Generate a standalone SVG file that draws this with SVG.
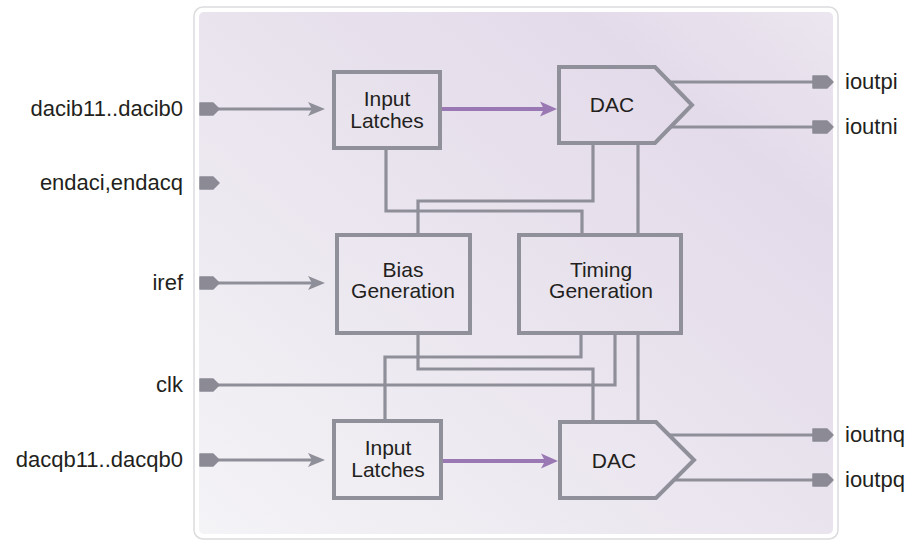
<svg xmlns="http://www.w3.org/2000/svg" width="918" height="540" viewBox="0 0 918 540">
<defs>
<linearGradient id="bg" x1="0" y1="1" x2="1" y2="0">
<stop offset="0" stop-color="#f4f3f6"/>
<stop offset="0.55" stop-color="#e8e2ed"/>
<stop offset="0.8" stop-color="#e4dbea"/>
<stop offset="1" stop-color="#ebe6ef"/>
</linearGradient>
<marker id="ag" markerUnits="userSpaceOnUse" markerWidth="18" markerHeight="15" refX="10" refY="7" orient="auto" viewBox="0 0 18 14">
<path d="M0,0 L17,7 L0,14 L4,7 Z" fill="#8f8f99"/>
</marker>
<marker id="ap" markerUnits="userSpaceOnUse" markerWidth="18" markerHeight="16" refX="10" refY="7.5" orient="auto" viewBox="0 0 18 15">
<path d="M0,0 L17,7.5 L0,15 L4,7.5 Z" fill="#9a78b3"/>
</marker>
<style>
.box{fill:none;stroke:#8f9099;stroke-width:4}
.wire{fill:none;stroke:#8f8f99;stroke-width:3.2}
.in{fill:none;stroke:#8f8f99;stroke-width:3;marker-end:url(#ag)}
.pur{fill:none;stroke:#9a78b3;stroke-width:4;marker-end:url(#ap)}
.port{fill:#8b8a95;stroke:#8b8a95;stroke-width:1.5;stroke-linejoin:round}
text{font-family:"Liberation Sans",Arial,sans-serif;font-size:21px;fill:#231f20}
.lbl{font-size:22px}
.c{text-anchor:middle}
.r{text-anchor:end}
</style>
</defs>
<rect x="194" y="7" width="644" height="532" rx="9" fill="#ffffff" stroke="#dcdcdf" stroke-width="1.5"/>
<rect x="199" y="12" width="634" height="522" rx="5" fill="url(#bg)"/>

<g id="connectors">
<path class="wire" d="M386,150 V211 H582 V235"/>
<path class="wire" d="M593,145 V201 H418 V235"/>
<path class="wire" d="M638,145 V235"/>
<path class="wire" d="M418,335 V369 H593 V420"/>
<path class="wire" d="M581,335 V357 H385 V420"/>
<path class="wire" d="M218,385 H615 V335"/>
<path class="wire" d="M638,335 V420"/>
<path class="in" d="M212,109 H318"/>
<path class="in" d="M212,283 H318"/>
<path class="in" d="M212,460 H318"/>
<path class="pur" d="M442,109 H550"/>
<path class="pur" d="M443,461 H551"/>
<path class="wire" d="M670,82 H814"/>
<path class="wire" d="M671,127 H814"/>
<path class="wire" d="M669,435 H814"/>
<path class="wire" d="M674,480 H814"/>
</g>

<g id="port-dacib">
<path class="port" d="M200,103 H213 L219,109 L213,115 H200 Z"/>
<text class="r lbl" x="183" y="116">dacib11..dacib0</text>
</g>
<g id="port-endac">
<path class="port" d="M200,177 H213 L219,183 L213,189 H200 Z"/>
<text class="r lbl" x="183" y="190">endaci,endacq</text>
</g>
<g id="port-iref">
<path class="port" d="M200,277 H213 L219,283 L213,289 H200 Z"/>
<text class="r lbl" x="183" y="290">iref</text>
</g>
<g id="port-clk">
<path class="port" d="M200,379 H213 L219,385 L213,391 H200 Z"/>
<text class="r lbl" x="183" y="392">clk</text>
</g>
<g id="port-dacqb">
<path class="port" d="M200,454 H213 L219,460 L213,466 H200 Z"/>
<text class="r lbl" x="183" y="467">dacqb11..dacqb0</text>
</g>

<g id="port-ioutpi">
<path class="port" d="M813,76 H827 L833,82 L827,88 H813 Z"/>
<text class="lbl" x="845" y="89">ioutpi</text>
</g>
<g id="port-ioutni">
<path class="port" d="M813,121 H827 L833,127 L827,133 H813 Z"/>
<text class="lbl" x="845" y="134">ioutni</text>
</g>
<g id="port-ioutnq">
<path class="port" d="M813,429 H827 L833,435 L827,441 H813 Z"/>
<text class="lbl" x="845" y="442">ioutnq</text>
</g>
<g id="port-ioutpq">
<path class="port" d="M813,474 H827 L833,480 L827,486 H813 Z"/>
<text class="lbl" x="845" y="487">ioutpq</text>
</g>

<g id="latch-i">
<rect class="box" x="334" y="72" width="106" height="76"/>
<text class="c" x="387" y="106">Input</text>
<text class="c" x="387" y="128">Latches</text>
</g>
<g id="dac-i">
<path class="box" d="M559,67 H655 L692,105 L655,143 H559 Z"/>
<text class="c" x="612" y="112">DAC</text>
</g>
<g id="bias">
<rect class="box" x="337" y="235" width="133" height="98"/>
<text class="c" x="403" y="277">Bias</text>
<text class="c" x="403" y="298">Generation</text>
</g>
<g id="timing">
<rect class="box" x="519" y="235" width="162" height="98"/>
<text class="c" x="601" y="277">Timing</text>
<text class="c" x="601" y="298">Generation</text>
</g>
<g id="latch-q">
<rect class="box" x="334" y="421" width="107" height="77"/>
<text class="c" x="388" y="455">Input</text>
<text class="c" x="388" y="477">Latches</text>
</g>
<g id="dac-q">
<path class="box" d="M560,422 H656 L694,460 L656,498 H560 Z"/>
<text class="c" x="614" y="468">DAC</text>
</g>
</svg>
